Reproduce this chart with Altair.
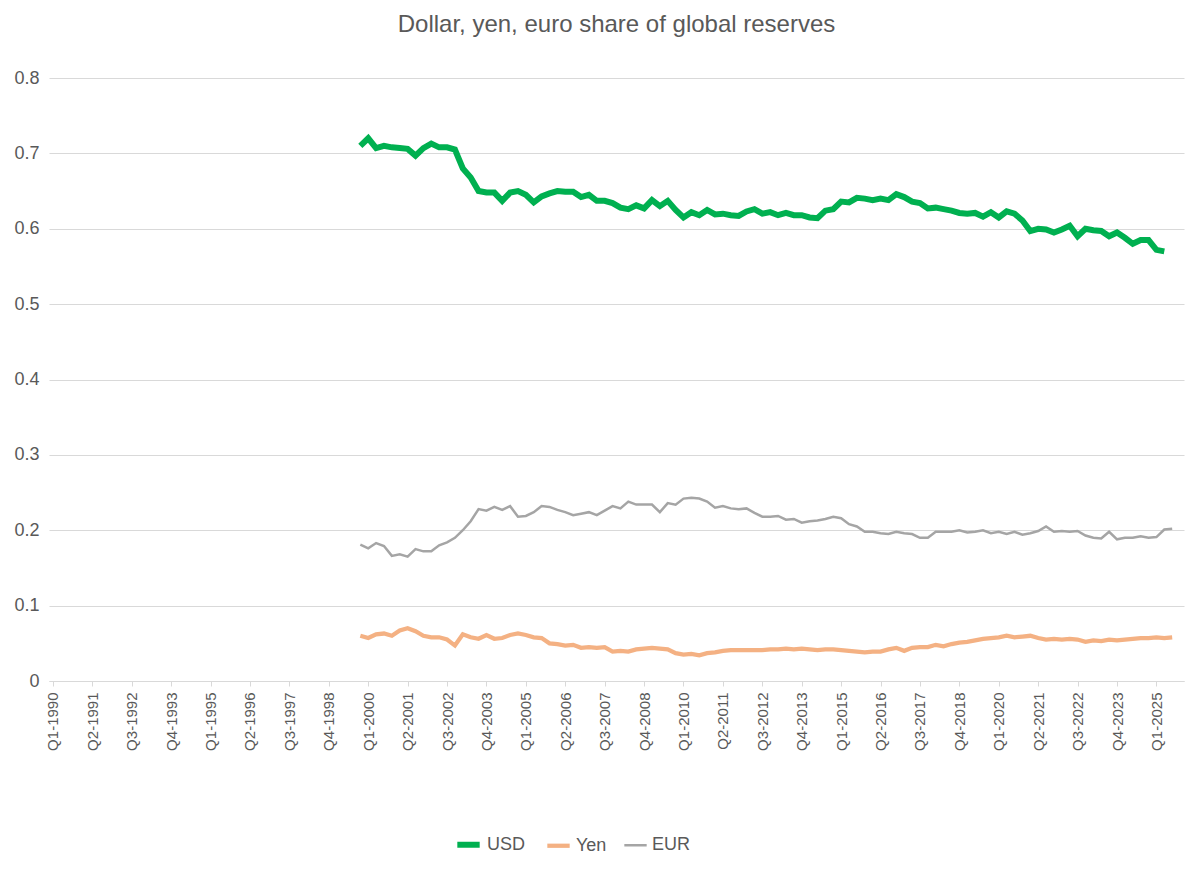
import altair as alt
import pandas as pd

usd = [0.71,0.72,0.707,0.71,0.708,0.707,0.706,0.697,0.707,0.713,
       0.708,0.708,0.705,0.68,0.668,0.65,0.648,0.648,0.637,
       0.648,0.65,0.645,0.635,0.643,0.647,0.65,0.649,0.649,0.642,
       0.645,0.637,0.637,0.634,0.628,0.626,0.631,0.627,0.638,0.63,
       0.637,0.625,0.615,0.622,0.618,0.625,0.619,0.62,0.618,0.617,
       0.623,0.626,0.62,0.622,0.618,0.621,0.618,
       0.618,0.615,0.614,0.624,0.626,0.636,0.635,0.641,0.64,0.638,
       0.64,0.638,0.646,0.642,0.636,0.634,0.627,0.628,0.626,0.624,
       0.621,0.62,0.621,0.616,0.622,0.615,0.623,0.62,0.611,0.597,
       0.6,0.599,0.595,0.599,0.604,0.59,0.6,0.598,
       0.597,0.59,0.595,0.588,0.58,0.585,0.585,0.572,0.57]
eur = [0.181,0.176,0.183,0.179,0.166,0.168,0.165,0.175,0.172,0.172,
       0.18,0.184,0.19,0.2,0.212,0.228,0.226,0.231,0.227,0.232,
       0.218,0.219,0.224,0.232,0.231,0.227,0.224,0.22,0.222,0.224,
       0.22,0.226,0.232,0.229,0.238,0.234,0.234,0.234,0.224,0.236,
       0.234,0.242,0.243,0.242,0.238,0.23,0.232,0.229,0.228,0.229,
       0.223,0.218,0.218,0.219,0.214,0.215,0.21,0.212,0.213,0.215,
       0.218,0.216,0.208,0.205,0.198,0.198,0.196,0.195,0.198,0.196,
       0.195,0.19,0.19,0.198,0.198,0.198,0.2,0.197,0.198,0.2,
       0.196,0.198,0.195,0.198,0.194,0.196,0.199,0.205,0.198,0.199,
       0.198,0.199,0.193,0.19,0.189,0.198,0.188,0.19,0.19,0.192,
       0.19,0.191,0.201,0.202]
yen = [0.06,0.057,0.062,0.063,0.06,0.067,0.07,0.066,0.06,0.058,
       0.058,0.055,0.047,0.062,0.058,0.056,0.061,0.056,0.057,0.061,
       0.063,0.061,0.058,0.057,0.05,0.049,0.047,0.048,0.044,0.045,
       0.044,0.045,0.039,0.04,0.039,0.042,0.043,0.044,0.043,0.042,
       0.037,0.035,0.036,0.034,0.037,0.038,0.04,0.041,0.041,0.041,
       0.041,0.041,0.042,0.042,0.043,0.042,0.043,0.042,0.041,0.042,
       0.042,0.041,0.04,0.039,0.038,0.039,0.039,0.042,0.044,0.04,
       0.044,0.045,0.045,0.048,0.046,0.049,0.051,0.052,0.054,0.056,
       0.057,0.058,0.06,0.058,0.059,0.06,0.057,0.055,0.056,0.055,
       0.056,0.055,0.052,0.054,0.053,0.055,0.054,0.055,0.056,0.057,
       0.057,0.058,0.057,0.058]

quarters = [f"Q{q}-{y}" for y in range(1990, 2026) for q in range(1, 5)]
tick_labels = quarters[::5]
first = quarters.index("Q4-1999")

rows = []
for name, vals in [("USD", usd), ("Yen", yen), ("EUR", eur)]:
    for i, v in enumerate(vals):
        rows.append({"Quarter": quarters[first + i], "Series": name, "Share": v, "idx": first + i})
df = pd.DataFrame(rows)

font = "Liberation Sans"
chart = (
    alt.Chart(df)
    .mark_line()
    .encode(
        x=alt.X("Quarter:O", sort=quarters, scale=alt.Scale(domain=quarters, paddingOuter=0.5),
                axis=alt.Axis(values=tick_labels, labelAngle=270, title=None, grid=False,
                              domainColor="#D9D9D9", tickColor="#D9D9D9", labelFontSize=15,
                              labelColor="#595959", labelPadding=6)),
        y=alt.Y("Share:Q", scale=alt.Scale(domain=[0, 0.8]),
                axis=alt.Axis(values=[0, 0.1, 0.2, 0.3, 0.4, 0.5, 0.6, 0.7, 0.8], format="~g",
                              title=None, domain=False, ticks=False, gridColor="#D9D9D9",
                              labelFontSize=18, labelColor="#595959", labelPadding=10)),
        color=alt.Color("Series:N", sort=["USD", "Yen", "EUR"],
                        scale=alt.Scale(domain=["USD", "Yen", "EUR"], range=["#00B050", "#F4B183", "#A5A5A5"]),
                        legend=alt.Legend(orient="none", legendX=405, legendY=752, direction="horizontal",
                                          title=None, symbolType="stroke", symbolSize=500, labelFontSize=18,
                                          labelColor="#595959", columnPadding=12)),
        strokeWidth=alt.StrokeWidth("Series:N", sort=["USD", "Yen", "EUR"],
                                    scale=alt.Scale(domain=["USD", "Yen", "EUR"], range=[6, 2.5, 2.5]),
                                    legend=None),
        order="idx:Q",
    )
    .properties(
        width=1135, height=603,
        title=alt.TitleParams("Dollar, yen, euro share of global reserves", fontSize=24,
                              font=font, fontWeight="normal", color="#595959", offset=32),
    )
    .configure(font=font)
    .configure_view(stroke=None)
)

chart.save("out.html", embed_options={"renderer": "svg", "actions": False})
